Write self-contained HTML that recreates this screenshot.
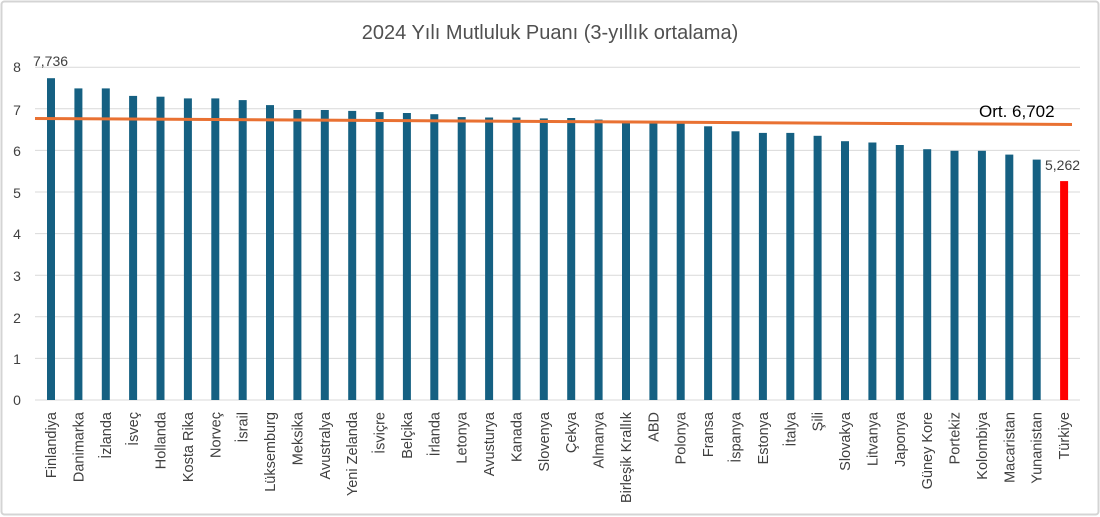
<!DOCTYPE html>
<html><head><meta charset="utf-8"><style>
html,body{margin:0;padding:0;background:#fff;}
svg{display:block;font-family:"Liberation Sans",sans-serif;}
</style></head><body>
<svg width="1100" height="517" viewBox="0 0 1100 517">
<rect x="1.5" y="1.5" width="1097" height="513" fill="#fff" stroke="#d4d4d4" stroke-width="2" rx="3"/>
<text x="550" y="39" text-anchor="middle" font-size="20" fill="#505050">2024 Yılı Mutluluk Puanı (3-yıllık ortalama)</text>
<g stroke="#d9d9d9" stroke-width="1">
<line x1="35" x2="1080" y1="67.2" y2="67.2"/><line x1="35" x2="1080" y1="108.8" y2="108.8"/>
<line x1="35" x2="1080" y1="150.4" y2="150.4"/><line x1="35" x2="1080" y1="192" y2="192"/>
<line x1="35" x2="1080" y1="233.6" y2="233.6"/><line x1="35" x2="1080" y1="275.2" y2="275.2"/>
<line x1="35" x2="1080" y1="316.8" y2="316.8"/><line x1="35" x2="1080" y1="358.4" y2="358.4"/>
<line x1="35" x2="1080" y1="400" y2="400"/>
</g>
<g font-size="14" fill="#404040" text-anchor="middle">
<text x="17" y="72">8</text><text x="17" y="115">7</text><text x="17" y="156">6</text>
<text x="17" y="198">5</text><text x="17" y="239">4</text><text x="17" y="281">3</text>
<text x="17" y="323">2</text><text x="17" y="364">1</text><text x="17" y="405">0</text>
</g>
<g fill="#156082">
<rect x="47" y="78.2" width="8" height="321.8"/>
<rect x="74.4" y="88.4" width="8" height="311.6"/>
<rect x="101.8" y="88.4" width="8" height="311.6"/>
<rect x="129.1" y="95.9" width="8" height="304.1"/>
<rect x="156.5" y="96.7" width="8" height="303.3"/>
<rect x="183.9" y="98.4" width="8" height="301.6"/>
<rect x="211.3" y="98.4" width="8" height="301.6"/>
<rect x="238.7" y="100.1" width="8" height="299.9"/>
<rect x="266" y="105.1" width="8" height="294.9"/>
<rect x="293.4" y="110" width="8" height="290"/>
<rect x="320.8" y="110" width="8" height="290"/>
<rect x="348.2" y="110.9" width="8" height="289.1"/>
<rect x="375.6" y="112.1" width="8" height="287.9"/>
<rect x="402.9" y="113" width="8" height="287"/>
<rect x="430.3" y="114.2" width="8" height="285.8"/>
<rect x="457.7" y="117.1" width="8" height="282.9"/>
<rect x="485.1" y="117.5" width="8" height="282.5"/>
<rect x="512.5" y="117.5" width="8" height="282.5"/>
<rect x="539.8" y="118.4" width="8" height="281.6"/>
<rect x="567.2" y="118" width="8" height="282"/>
<rect x="594.6" y="119.6" width="8" height="280.4"/>
<rect x="622" y="121.3" width="8" height="278.7"/>
<rect x="649.4" y="122.1" width="8" height="277.9"/>
<rect x="676.7" y="122.9" width="8" height="277.1"/>
<rect x="704.1" y="126.3" width="8" height="273.7"/>
<rect x="731.5" y="131.3" width="8" height="268.7"/>
<rect x="758.9" y="132.9" width="8" height="267.1"/>
<rect x="786.3" y="132.9" width="8" height="267.1"/>
<rect x="813.6" y="135.8" width="8" height="264.2"/>
<rect x="841" y="141.2" width="8" height="258.8"/>
<rect x="868.4" y="142.5" width="8" height="257.5"/>
<rect x="895.8" y="145" width="8" height="255"/>
<rect x="923.2" y="149.2" width="8" height="250.8"/>
<rect x="950.5" y="150.8" width="8" height="249.2"/>
<rect x="977.9" y="150.8" width="8" height="249.2"/>
<rect x="1005.3" y="154.6" width="8" height="245.4"/>
<rect x="1032.7" y="159.6" width="8" height="240.4"/>
</g>
<rect x="1060.1" y="181.1" width="8" height="218.9" fill="#ff0000"/>
<line x1="35" y1="118.5" x2="1072" y2="124.5" stroke="#e97132" stroke-width="3"/>
<text x="33" y="66" font-size="14" fill="#404040">7,736</text>
<text x="1045" y="170" font-size="14" fill="#404040">5,262</text>
<text x="979" y="117" font-size="17" fill="#000">Ort. 6,702</text>
<g font-size="14.5" fill="#404040" text-anchor="end">
<text transform="translate(56,412) rotate(-90)">Finlandiya</text>
<text transform="translate(83.4,412) rotate(-90)">Danimarka</text>
<text transform="translate(110.8,412) rotate(-90)">İzlanda</text>
<text transform="translate(138.1,412) rotate(-90)">İsveç</text>
<text transform="translate(165.5,412) rotate(-90)">Hollanda</text>
<text transform="translate(192.9,412) rotate(-90)">Kosta Rika</text>
<text transform="translate(220.3,412) rotate(-90)">Norveç</text>
<text transform="translate(247.7,412) rotate(-90)">İsrail</text>
<text transform="translate(275,412) rotate(-90)">Lüksemburg</text>
<text transform="translate(302.4,412) rotate(-90)">Meksika</text>
<text transform="translate(329.8,412) rotate(-90)">Avustralya</text>
<text transform="translate(357.2,412) rotate(-90)">Yeni Zelanda</text>
<text transform="translate(384.6,412) rotate(-90)">İsviçre</text>
<text transform="translate(411.9,412) rotate(-90)">Belçika</text>
<text transform="translate(439.3,412) rotate(-90)">İrlanda</text>
<text transform="translate(466.7,412) rotate(-90)">Letonya</text>
<text transform="translate(494.1,412) rotate(-90)">Avusturya</text>
<text transform="translate(521.5,412) rotate(-90)">Kanada</text>
<text transform="translate(548.8,412) rotate(-90)">Slovenya</text>
<text transform="translate(576.2,412) rotate(-90)">Çekya</text>
<text transform="translate(603.6,412) rotate(-90)">Almanya</text>
<text transform="translate(631,412) rotate(-90)">Birleşik Krallık</text>
<text transform="translate(658.4,412) rotate(-90)">ABD</text>
<text transform="translate(685.7,412) rotate(-90)">Polonya</text>
<text transform="translate(713.1,412) rotate(-90)">Fransa</text>
<text transform="translate(740.5,412) rotate(-90)">İspanya</text>
<text transform="translate(767.9,412) rotate(-90)">Estonya</text>
<text transform="translate(795.3,412) rotate(-90)">İtalya</text>
<text transform="translate(822.6,412) rotate(-90)">Şili</text>
<text transform="translate(850,412) rotate(-90)">Slovakya</text>
<text transform="translate(877.4,412) rotate(-90)">Litvanya</text>
<text transform="translate(904.8,412) rotate(-90)">Japonya</text>
<text transform="translate(932.2,412) rotate(-90)">Güney Kore</text>
<text transform="translate(959.5,412) rotate(-90)">Portekiz</text>
<text transform="translate(986.9,412) rotate(-90)">Kolombiya</text>
<text transform="translate(1014.3,412) rotate(-90)">Macaristan</text>
<text transform="translate(1041.7,412) rotate(-90)">Yunanistan</text>
<text transform="translate(1069.1,412) rotate(-90)">Türkiye</text>
</g>
</svg>
</body></html>
